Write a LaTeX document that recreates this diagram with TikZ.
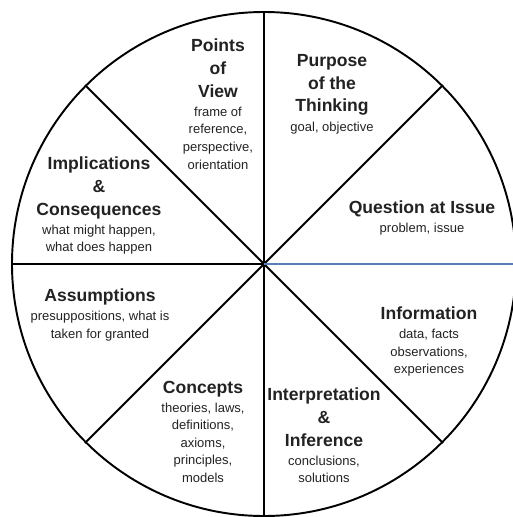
\documentclass[tikz,border=0pt]{standalone}
\usepackage{fontspec}
\setmainfont{Liberation Sans}
\usepackage{xcolor}
\usepackage{tikz}
\usetikzlibrary{positioning}
\definecolor{wheelblue}{HTML}{5B7FB5}
\definecolor{wheelink}{HTML}{222222}

\begin{document}
\begin{tikzpicture}[x=0.2mm,y=-0.2mm,
  node distance=1.8mm,
  head/.style={align=center,inner sep=0pt,text depth=0pt,text=wheelink,font=\fontsize{10}{13}\selectfont\bfseries},
  sub/.style={align=center,inner sep=0pt,text=wheelink,font=\fontsize{7.4}{10}\selectfont},
  spoke/.style={line width=1.2pt,draw=black}]
  \useasboundingbox (0,0) rectangle (513,517);
  % wheel and spokes
  \coordinate (hub) at (264,264);
  \node[circle,draw,line width=1.1pt,minimum size=100.8mm,inner sep=0pt] (rim) at (hub) {};
  \foreach \a in {45,90,...,315} \draw[spoke] (hub) -- (rim.\a);
  \draw[line width=1.1pt,wheelblue] (hub) -- (rim.east);
  % sectors, clockwise from the top
  \node[head] (pov) at (218,68) {Points\\of\\View};
  \node[sub,below=of pov] (povtxt) {frame of\\reference,\\perspective,\\orientation};
  \node[head] (purpose) at (332,83) {Purpose\\of the\\Thinking};
  \node[sub,below=of purpose] (purposetxt) {goal, objective};
  \node[head] (question) at (422,207) {Question at Issue};
  \node[sub,below=of question] (questiontxt) {problem, issue};
  \node[head] (info) at (429,313) {Information};
  \node[sub,below=of info] (infotxt) {data, facts\\observations,\\experiences};
  \node[head] (infer) at (324,417) {Interpretation\\\&\\Inference};
  \node[sub,below=of infer] (infertxt) {conclusions,\\solutions};
  \node[head] (concepts) at (203,387) {Concepts};
  \node[sub,below=of concepts] (conceptstxt) {theories, laws,\\definitions,\\axioms,\\principles,\\models};
  \node[head] (assume) at (100,295) {Assumptions};
  \node[sub,below=of assume] (assumetxt) {presuppositions, what is\\taken for granted};
  \node[head] (implic) at (99,186) {Implications\\\&\\Consequences};
  \node[sub,below=of implic] (implictxt) {what might happen,\\what does happen};
\end{tikzpicture}
\end{document}
